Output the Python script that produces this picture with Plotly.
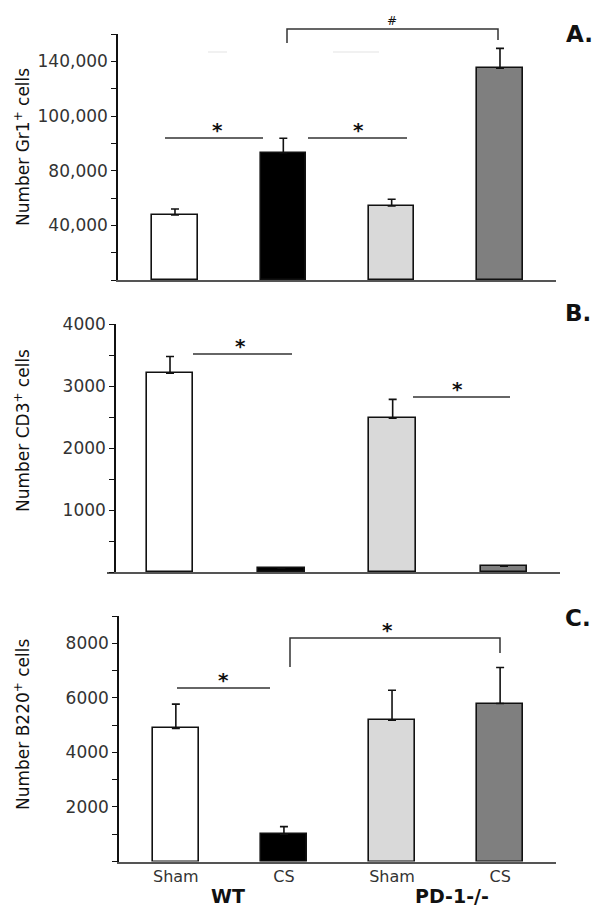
import plotly.graph_objects as go

# ---------------- data ----------------
categories = ["WT Sham", "WT CS", "PD-1-/- Sham", "PD-1-/- CS"]
x_tick_labels = ["Sham", "CS", "Sham", "CS"]
group_labels = ["WT", "PD-1-/-"]
bar_colors = ["#ffffff", "#000000", "#d9d9d9", "#7f7f7f"]

gr1_values = [47600, 93100, 54100, 154900]
gr1_errors = [4300, 10600, 5000, 14600]
gr1_tickvals = [0, 20000, 40000, 60000, 80000, 100000, 120000, 140000, 160000, 180000]
gr1_ticktext = ["", "", "40,000", "", "80,000", "", "100,000", "", "140,000", ""]

cd3_values = [3205, 65, 2480, 95]
cd3_errors = [270, 0, 305, 0]
cd3_tickvals = [0, 500, 1000, 1500, 2000, 2500, 3000, 3500, 4000]
cd3_ticktext = ["", "", "1000", "", "2000", "", "3000", "", "4000"]

b220_values = [4880, 1000, 5180, 5790]
b220_errors = [890, 280, 1100, 1320]
b220_tickvals = [0, 1000, 2000, 3000, 4000, 5000, 6000, 7000, 8000, 9000]
b220_ticktext = ["", "", "2000", "", "4000", "", "6000", "", "8000", ""]

positions = list(range(len(categories)))

# the page body adds an 8px margin, so the figure is 16px smaller than the window
OFF = 8
W, H = 604 - 2 * OFF, 915 - 2 * OFF
FONT = "DejaVu Sans"


def px(x):
    return (x - OFF) / W


def py(y):
    return 1 - (y - OFF) / H


fig = go.Figure()

panels = [
    ("x", "y", gr1_values, gr1_errors),
    ("x2", "y2", cd3_values, cd3_errors),
    ("x3", "y3", b220_values, b220_errors),
]
for xa, ya, vals, errs in panels:
    fig.add_trace(go.Bar(
        x=positions, y=vals, xaxis=xa, yaxis=ya, width=0.42,
        marker=dict(color=bar_colors, line=dict(color="#111111", width=1.6)),
        error_y=dict(type="data", symmetric=False, array=errs,
                     arrayminus=[0] * len(errs), color="#111111",
                     thickness=1.6, width=4),
        showlegend=False, hoverinfo="skip",
    ))

ytick_font = dict(family=FONT, size=17, color="#333333")
common_y = dict(showline=True, linecolor="#111111", linewidth=1.5,
                ticks="outside", ticklen=5, tickwidth=1.3, tickcolor="#111111",
                showgrid=False, zeroline=False, tickfont=ytick_font,
                tickmode="array", automargin=False)
common_x = dict(showline=True, linecolor="#555555", linewidth=1.5,
                showgrid=False, zeroline=False, ticks="", automargin=False)

fig.update_layout(
    width=W, height=H,
    margin=dict(l=0, r=0, t=0, b=0, pad=0, autoexpand=False),
    paper_bgcolor="white", plot_bgcolor="white", bargap=0,
    xaxis=dict(domain=[px(118), px(556)], range=[-0.526, 3.517],
               anchor="y", showticklabels=False, **common_x),
    yaxis=dict(domain=[py(280), py(34)], range=[0, 180000], anchor="x",
               tickvals=gr1_tickvals, ticktext=gr1_ticktext, **common_y),
    xaxis2=dict(domain=[px(107), px(560)], range=[-0.566, 3.503],
                anchor="y2", showticklabels=False, **common_x),
    yaxis2=dict(domain=[py(572), py(324)], range=[0, 4000], anchor="free",
                position=px(115),
                tickvals=cd3_tickvals, ticktext=cd3_ticktext, **common_y),
    xaxis3=dict(domain=[px(119), px(556)], range=[-0.526, 3.517],
                anchor="y3", tickmode="array", tickvals=positions,
                ticktext=x_tick_labels,
                tickfont=dict(family=FONT, size=16, color="#333333"),
                **common_x),
    yaxis3=dict(domain=[py(861.5), py(616)], range=[0, 9000], anchor="x3",
                tickvals=b220_tickvals, ticktext=b220_ticktext, **common_y),
)

line_style = dict(color="#333333", width=1.5)
shapes = []


def hline(x0, x1, y):
    shapes.append(dict(type="line", xref="paper", yref="paper",
                       x0=px(x0), x1=px(x1), y0=py(y), y1=py(y), line=line_style))


def bracket(x0, x1, ytop, yl, yr):
    shapes.append(dict(type="path", xref="paper", yref="paper",
                       path=f"M {px(x0)} {py(yl)} L {px(x0)} {py(ytop)} "
                            f"L {px(x1)} {py(ytop)} L {px(x1)} {py(yr)}",
                       line=line_style))


# panel A
hline(165, 263, 138)
hline(308, 407, 138)
bracket(287, 498, 29, 43, 40)
shapes.append(dict(type="line", xref="paper", yref="paper", x0=px(208), x1=px(227),
                   y0=py(52), y1=py(52), line=dict(color="#ececec", width=1.5)))
shapes.append(dict(type="line", xref="paper", yref="paper", x0=px(333), x1=px(379),
                   y0=py(52), y1=py(52), line=dict(color="#ececec", width=1.5)))
# panel B
hline(193, 292, 354)
hline(413, 510, 397)
# panel C
hline(177, 270, 688)
bracket(290, 500, 638, 667, 653)
fig.update_layout(shapes=shapes)

ann = []


def text(x, y, s, size=16, bold=False, angle=0, color="#111111"):
    ann.append(dict(xref="paper", yref="paper", x=px(x), y=py(y), text=s,
                    showarrow=False, textangle=angle,
                    xanchor="center", yanchor="middle",
                    font=dict(family=FONT, size=size, color=color,
                              weight="bold" if bold else "normal")))


# stars and hash
for sx, sy in [(217, 130), (358, 130), (240, 346), (457, 389), (223, 680), (387, 630)]:
    text(sx, sy, "*", size=20, bold=True)
text(392, 21, "#", size=12)

# panel letters
text(579, 34, "A.", size=23, bold=True)
text(578, 313, "B.", size=23, bold=True)
text(578, 618, "C.", size=23, bold=True)

# y titles
text(22, 147, "Number Gr1<sup>+</sup> cells", size=17, angle=-90)
text(22, 431, "Number CD3<sup>+</sup> cells", size=17, angle=-90)
text(22, 725, "Number B220<sup>+</sup> cells", size=17, angle=-90)

# group labels
text(228, 896, group_labels[0], size=19, bold=True)
text(452, 896, group_labels[1], size=19, bold=True)

fig.update_layout(annotations=ann)

fig.write_html("out.html")
